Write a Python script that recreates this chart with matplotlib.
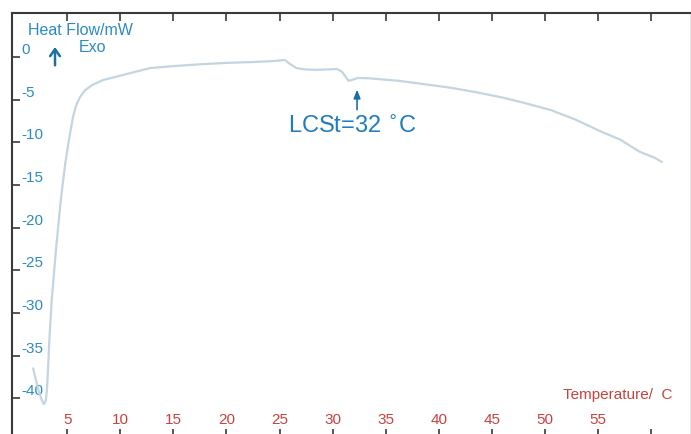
import matplotlib
matplotlib.use("Agg")
import matplotlib.pyplot as plt

plt.rcParams['font.family'] = ['Liberation Sans', 'DejaVu Sans']

# DSC trace (temperature in C, heat flow in mW)
temp = [1.8, 2.07, 2.35, 2.64, 2.82, 3.0, 3.1, 3.2, 3.3, 3.55, 3.95, 4.4,
        4.8, 5.2, 5.56, 5.84, 6.21, 6.69, 7.34, 8.38, 9.5, 10.9, 12.8, 15.2,
        17.5, 19.9, 22.2, 24.1, 25.5, 25.96, 26.6, 27.4, 28.5, 29.7, 30.4, 30.9,
        31.3, 31.5, 31.8, 32.4, 33.5, 36.3, 41.1, 43.4, 45.8, 48.1, 50.5, 52.8,
        55.2, 57.1, 58.9, 60.3, 61.0]
heat_flow = [-36.5, -37.9, -39.3, -40.3, -40.7, -40.2, -39.0, -36.7, -33.8, -28.5,
             -22.6, -16.8, -12.7, -9.5, -7.0, -5.7, -4.7, -3.9, -3.3, -2.7,
             -2.35, -1.9, -1.3, -1.05, -0.85, -0.7, -0.6, -0.5, -0.35, -0.8, -1.3,
             -1.45, -1.5, -1.45, -1.4, -1.75, -2.45, -2.8, -2.7, -2.45, -2.5, -2.8,
             -3.6, -4.1, -4.7, -5.4, -6.2, -7.3, -8.7, -9.7, -11.1, -11.8, -12.3]

x_ticks = [5, 10, 15, 20, 25, 30, 35, 40, 45, 50, 55, 60]
x_labels = ['5', '10', '15', '20', '25', '30', '35', '40', '45', '50', '55', '']
y_ticks = [0, -5, -10, -15, -20, -25, -30, -35, -40]
lcst = 32

blue = '#2b8bc4'
dark_blue = '#1c6fa6'
red = '#c8423f'
frame = '#3a3a3a'

fig = plt.figure(figsize=(6.91, 4.34), dpi=100)
ax = fig.add_axes([0.01737, -0.00691, 0.9812, 0.97696])

ax.plot(temp, heat_flow, color='#c3d5e0', lw=1.6,
        solid_capstyle='round', solid_joinstyle='round')

ax.set_xlim(-0.19, 63.65)
ax.set_ylim(-44.55, 5.16)

ax.set_xticks(x_ticks)
ax.set_xticklabels(x_labels, color=red, fontsize=11)
ax.set_yticks(y_ticks)
ax.set_yticklabels([str(v) for v in y_ticks], color=blue, fontsize=11)

ax.tick_params(axis='x', direction='in', length=6, width=1.2, color=frame,
               top=True, bottom=True, pad=-17)
ax.tick_params(axis='y', direction='in', length=6, width=1.2, color=frame,
               left=True, right=False, pad=-7)
for lab in ax.get_yticklabels():
    lab.set_horizontalalignment('left')
    lab.set_verticalalignment('bottom')

for side in ['left', 'top', 'bottom']:
    ax.spines[side].set_color(frame)
    ax.spines[side].set_linewidth(1.5)
ax.spines['right'].set_color('#e6e6e6')
ax.spines['right'].set_linewidth(0.8)

ax.text(1.32, 3.05, 'Heat Flow/mW', color=blue, fontsize=11.5, ha='left', va='center')
ax.text(6.12, 1.06, 'Exo', color=blue, fontsize=11.5, ha='left', va='center')
ax.annotate('', xy=(3.86, 1.5), xytext=(3.86, -1.3),
            arrowprops=dict(arrowstyle='->,head_length=0.5,head_width=0.35',
                            color=dark_blue, lw=1.8))

ax.text(25.8, -8.2, 'LCSt=%d $^{\\circ}$C' % lcst, color='#1f7cbf', fontsize=17,
        ha='left', va='center')
ax.annotate('', xy=(lcst + 0.3, -3.5), xytext=(lcst + 0.3, -6.5),
            arrowprops=dict(arrowstyle='-|>,head_length=0.5,head_width=0.2',
                            color=dark_blue, lw=1.2))

ax.text(51.7, -39.6, 'Temperature/  C', color=red, fontsize=11, ha='left', va='center')

fig.savefig('out.png', dpi=100)
